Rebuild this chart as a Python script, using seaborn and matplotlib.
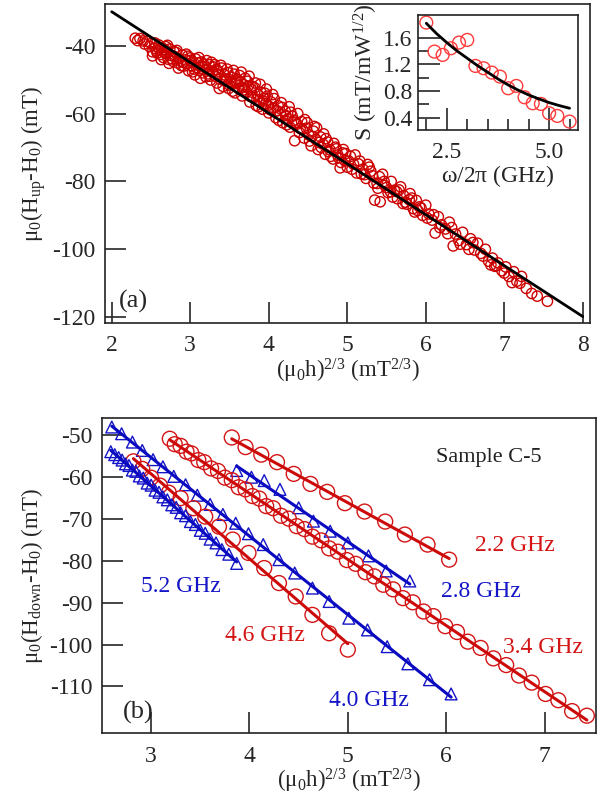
import matplotlib
matplotlib.use("Agg")
import matplotlib.pyplot as plt
import seaborn as sns
import numpy as np
from matplotlib.ticker import MultipleLocator, FixedLocator

sns.set_style("ticks")
plt.rcParams['font.family'] = ['Liberation Serif', 'DejaVu Serif']
plt.rcParams['mathtext.fontset'] = 'custom'
plt.rcParams['mathtext.rm'] = 'Liberation Serif'
plt.rcParams['mathtext.it'] = 'Liberation Serif:italic'
plt.rcParams['axes.unicode_minus'] = False

# ---------------- Panel (a) data ----------------
up_x = [2.30, 2.33, 2.36, 2.40, 2.42, 2.45, 2.48, 2.50, 2.52, 2.55, 2.57, 2.60, 2.62, 2.64, 2.66, 2.68,
        2.70, 2.72, 2.74, 2.76, 2.78, 2.80, 2.82, 2.84, 2.86, 2.88, 2.90, 2.92, 2.94, 2.96, 2.98, 3.00,
        3.02, 3.04, 3.06, 3.08, 3.10, 3.12, 3.14, 3.16, 3.18, 3.20, 3.22, 3.24, 3.26, 3.28, 3.30, 3.32,
        3.34, 3.36, 3.38, 3.40, 3.42, 3.44, 3.46, 3.48, 3.50, 3.52, 3.54, 3.56, 3.58, 3.60, 3.62, 3.64,
        3.66, 3.68, 3.70, 3.72, 3.74, 3.76, 3.78, 3.80, 3.82, 3.84, 3.86, 3.88, 3.90, 3.92, 3.94, 3.96,
        3.98, 4.00, 4.03, 4.06, 4.09, 4.12, 4.15, 4.18, 4.21, 4.24, 4.27, 4.30, 4.33, 4.36, 4.39, 4.42,
        4.45, 4.48, 4.51, 4.54, 4.57, 4.60, 4.63, 4.66, 4.69, 4.72, 4.75, 4.78, 4.82, 4.85, 4.88, 4.91,
        4.94, 4.97, 5.00, 5.04, 5.08, 5.12, 5.16, 5.20, 5.24, 5.28, 5.32, 5.35, 5.38, 5.42, 5.45, 5.48,
        5.52, 5.56, 5.60, 5.64, 5.68, 5.72, 5.76, 5.80, 5.84, 5.88, 5.92, 5.96, 6.00, 6.04, 6.08, 6.12,
        6.16, 6.20, 6.25, 6.30, 6.35, 6.38, 6.42, 6.47, 6.52, 6.57, 6.62, 6.66, 6.70, 6.76, 6.80, 6.85,
        6.88, 6.92, 6.97, 7.02, 7.06, 7.12, 7.16, 7.22, 7.28, 7.42, 7.55,
        2.52, 2.58, 2.63, 2.69, 2.73, 2.79, 2.85, 2.91, 2.97, 3.03, 3.07, 3.13, 3.17, 3.23, 3.27, 3.33,
        3.37, 3.43, 3.47, 3.53, 3.57, 3.63, 3.67, 3.73, 3.77, 3.83, 3.87, 3.93, 3.97, 4.02, 4.07, 4.13,
        4.17, 4.23, 4.28, 4.34, 4.40, 4.46, 4.52, 4.58, 4.64, 4.70, 4.76, 4.83, 4.89, 4.95, 5.02, 5.10,
        5.18, 5.26, 5.34, 5.41, 5.50, 5.58, 5.66, 5.74, 5.82, 5.90]
up_y = [-37.8, -38.5, -37.9, -38.6, -39.5, -38.7, -40.2, -39.4, -43.0, -40.8, -41.5, -39.8, -42.6, -40.6, -43.5, -41.2,
        -42.4, -44.0, -41.0, -42.9, -44.6, -43.2, -42.0, -45.1, -43.8, -44.5, -42.8, -46.0, -44.2, -45.3, -47.4, -43.6,
        -45.9, -44.9, -48.6, -46.4, -45.1, -47.3, -44.8, -48.0, -46.2, -49.2, -47.0, -45.6, -50.1, -47.8, -46.3, -49.0,
        -51.0, -47.5, -49.8, -46.6, -52.0, -48.6, -50.4, -47.9, -51.6, -49.3, -53.4, -48.4, -51.1, -49.9, -52.7, -50.6,
        -54.8, -51.5, -49.6, -53.6, -51.9, -56.6, -53.0, -55.2, -52.4, -57.6, -54.3, -56.0, -53.7, -58.7, -55.5, -57.2,
        -54.9, -59.8, -56.6, -58.3, -61.2, -57.7, -60.2, -62.7, -59.3, -61.6, -64.0, -60.8, -68.0, -63.1, -65.6, -62.4,
        -67.2, -64.3, -66.3, -69.5, -65.2, -67.6, -70.6, -66.9, -69.0, -72.0, -68.4, -70.7, -73.4, -69.9, -72.2, -76.0,
        -71.6, -73.9, -75.8, -72.6, -74.9, -77.5, -74.0, -76.4, -79.1, -75.8, -78.3, -85.5, -80.6, -86.0, -77.9, -81.2,
        -83.3, -80.0, -82.6, -85.1, -81.6, -84.2, -86.7, -83.6, -88.0, -85.6, -87.5, -90.0, -87.0, -89.6, -91.4, -95.2,
        -90.4, -92.8, -94.0, -92.0, -99.0, -95.5, -97.4, -95.0, -98.6, -96.9, -100.2, -98.2, -101.2, -100.0, -103.5, -102.6,
        -105.0, -104.0, -106.3, -105.2, -108.0, -106.6, -109.4, -108.0, -111.5, -113.8, -115.3,
        -41.8, -42.2, -44.1, -40.3, -45.2, -41.7, -46.6, -44.9, -43.1, -47.7, -43.9, -49.6, -45.4, -48.3, -44.9, -47.0,
        -52.6, -50.3, -46.9, -50.8, -53.9, -48.8, -52.3, -50.5, -55.0, -51.0, -58.0, -56.3, -52.8, -58.9, -55.6, -62.0,
        -58.2, -63.3, -59.6, -62.6, -64.4, -61.8, -68.1, -63.8, -68.5, -66.0, -71.2, -68.8, -73.0, -70.6, -74.0, -72.2,
        -77.8, -75.0, -80.5, -78.6, -81.8, -84.6, -82.5, -86.1, -84.9, -88.6]
up_x3 = [2.55, 2.61, 2.67, 2.71, 2.77, 2.83, 2.89, 2.95, 3.01, 3.05, 3.11, 3.15, 3.21, 3.25, 3.31, 3.35,
         3.39, 3.45, 3.49, 3.55, 3.59, 3.65, 3.69, 3.75, 3.79, 3.85, 3.89, 3.95, 3.99, 4.05, 4.11, 4.16,
         4.22, 4.26, 4.32, 4.37, 4.43, 4.49, 4.55, 4.61, 4.67, 4.73, 4.79, 4.86, 4.92, 4.98, 5.06, 5.14,
         5.22, 5.30, 5.39, 5.47, 5.55, 5.63, 5.71, 5.79, 5.86, 5.94, 6.02, 6.10, 6.18, 6.28, 6.33, 6.44,
         6.55, 6.60, 6.73, 6.83, 6.90, 7.00, 7.10, 7.20, 7.35]
up_y3 = [-39.2, -41.0, -42.0, -39.9, -43.9, -41.4, -45.9, -42.5, -44.3, -46.9, -43.5, -46.0, -44.4, -49.0, -45.6, -48.4,
         -45.8, -49.9, -52.6, -47.3, -50.4, -47.8, -53.0, -49.0, -52.0, -55.8, -51.4, -54.0, -57.6, -54.4, -59.2, -56.8,
         -60.6, -58.0, -62.0, -60.0, -64.7, -62.7, -66.8, -64.2, -70.0, -67.4, -72.6, -70.4, -74.4, -71.8, -76.4, -74.8,
         -78.0, -77.0, -82.0, -80.0, -83.0, -83.0, -86.5, -85.4, -89.0, -87.8, -90.8, -89.8, -93.6, -95.4, -93.6, -98.5,
         -100.0, -98.0, -102.0, -104.6, -104.8, -107.0, -109.8, -110.0, -113.0]
fit_a_x = [2.0, 5.0, 8.0]
fit_a_y = [-30.0, -74.8, -119.8]

# inset data
ins_f = [2.0, 2.2, 2.4, 2.6, 2.8, 3.0, 3.2, 3.4, 3.6, 3.8, 4.0, 4.2, 4.4, 4.6, 4.8, 5.0, 5.2, 5.5]
ins_s = [1.825, 1.39, 1.34, 1.44, 1.525, 1.565, 1.175, 1.14, 1.075, 1.015, 0.84, 0.875, 0.705, 0.615, 0.605,
         0.465, 0.425, 0.34]
ins_fit_f = [2.0, 2.25, 2.5, 2.75, 3.0, 3.25, 3.5, 3.75, 4.0, 4.25, 4.5, 4.75, 5.0, 5.25, 5.5]
ins_fit_s = [1.815, 1.66, 1.525, 1.40, 1.29, 1.18, 1.08, 0.98, 0.89, 0.81, 0.74, 0.68, 0.625, 0.58, 0.54]

# ---------------- Panel (b) data ----------------
x22 = [3.82, 3.96, 4.12, 4.28, 4.45, 4.62, 4.79, 4.97, 5.17, 5.38, 5.58, 5.81, 6.03]
y22 = [-50.5, -52.8, -54.6, -56.4, -59.2, -61.6, -63.5, -66.2, -68.2, -70.6, -73.7, -76.1, -79.7]

x28 = [3.87, 4.02, 4.15, 4.31, 4.50, 4.65, 4.82, 5.00, 5.21, 5.39, 5.63]
y28 = [-58.4, -60.0, -60.8, -62.9, -67.3, -70.5, -72.9, -75.7, -78.8, -82.4, -84.8]

x34 = [3.19, 3.24, 3.30, 3.36, 3.41, 3.48, 3.54, 3.61, 3.68, 3.75, 3.82, 3.89, 3.96, 4.03, 4.10, 4.17,
       4.24, 4.32, 4.40, 4.48, 4.56, 4.64, 4.73, 4.81, 4.90, 4.99, 5.08, 5.18, 5.27, 5.36, 5.46, 5.56,
       5.66, 5.77, 5.87, 5.99, 6.11, 6.22, 6.35, 6.48, 6.61, 6.74, 6.87, 7.01, 7.14, 7.28, 7.43]
y34 = [-50.8, -52.1, -52.5, -53.9, -54.3, -55.9, -56.4, -57.9, -58.5, -60.1, -60.7, -62.4, -62.9, -64.5, -65.1, -66.9,
       -67.4, -69.2, -69.9, -71.7, -72.4, -74.2, -75.1, -77.0, -77.8, -79.8, -80.7, -82.7, -83.7, -85.7, -86.8, -88.9,
       -89.9, -92.1, -93.2, -95.6, -97.0, -99.3, -100.8, -103.3, -104.9, -107.4, -109.1, -111.8, -113.3, -115.9, -117.0]

x40 = [2.60, 2.70, 2.81, 2.91, 3.02, 3.12, 3.23, 3.35, 3.47, 3.60, 3.73, 3.86, 3.99, 4.14, 4.30, 4.46,
       4.64, 4.81, 5.01, 5.20, 5.40, 5.61, 5.83, 6.05]
y40 = [-48.0, -49.6, -51.6, -53.6, -55.8, -57.5, -59.8, -61.8, -64.3, -66.5, -68.9, -71.0, -73.5, -76.1, -79.7, -82.9,
       -86.5, -89.7, -93.7, -96.5, -100.5, -104.6, -108.4, -111.8]

x46 = [2.82, 2.91, 3.00, 3.09, 3.18, 3.30, 3.43, 3.55, 3.69, 3.83, 3.99, 4.15, 4.30, 4.47, 4.64, 4.81, 5.00]
y46 = [-56.2, -58.0, -60.1, -62.0, -63.7, -65.0, -67.4, -69.4, -71.8, -74.9, -78.1, -81.7, -85.3, -88.5, -92.9,
       -97.3, -101.2]

x52 = [2.59, 2.63, 2.67, 2.705, 2.74, 2.775, 2.81, 2.845, 2.88, 2.92, 2.96, 3.00, 3.04, 3.08, 3.12, 3.165,
       3.21, 3.255, 3.30, 3.35, 3.40, 3.45, 3.50, 3.55, 3.60, 3.66, 3.72, 3.79, 3.87]
y52 = [-53.9, -54.6, -55.3, -55.9, -56.8, -57.2, -58.3, -58.6, -59.7, -60.2, -61.4, -61.9, -63.1, -63.6, -64.7, -65.4,
       -66.6, -67.2, -68.5, -69.2, -70.6, -71.3, -72.7, -73.4, -74.8, -75.7, -77.3, -78.4, -80.6]

red = '#d41414'
red_line = '#cc0a0a'
blue = '#1414c8'
blue_line = '#0a0ac0'

fig = plt.figure(figsize=(6.01, 8.02), dpi=100)
axA = fig.add_axes([0.1754, 0.5973, 0.806, 0.3978])
axB = fig.add_axes([0.1696, 0.0857, 0.8216, 0.3928])
axI = fig.add_axes([0.695, 0.838, 0.267, 0.1434])

# ---- panel (a)
sns.scatterplot(x=up_x + up_x3, y=up_y + up_y3, ax=axA, marker='o', s=55, facecolors='none',
                edgecolor='#cc0000', color='#cc0000', linewidth=1.0, zorder=2)
sns.lineplot(x=fit_a_x, y=fit_a_y, ax=axA, color='black', lw=2.0, zorder=3, estimator=None)
axA.set_xlim(1.92, 8.09)
axA.set_ylim(-121.7, -27.7)
axA.xaxis.set_major_locator(MultipleLocator(1))
axA.yaxis.set_major_locator(FixedLocator([-40, -60, -80, -100, -120]))
axA.set_xlabel(r'($\mathrm{\mu_0}$h)$^{\mathrm{2/3}}$ (mT$^{\mathrm{2/3}}$)', fontsize=16.5, labelpad=0)
axA.set_ylabel(r'$\mathrm{\mu_0}$(H$_{\mathrm{up}}$-H$_{\mathrm{0}}$) (mT)', fontsize=16.5, labelpad=3)
axA.text(2.28, -115.4, '(a)', fontsize=19, ha='center', va='center')

# ---- inset
sns.scatterplot(x=ins_f, y=ins_s, ax=axI, marker='o', s=85, facecolors='none', edgecolor='#ff3a3a',
                color='#ff3a3a', linewidth=1.0, zorder=2)
sns.lineplot(x=ins_fit_f, y=ins_fit_s, ax=axI, color='black', lw=2.0, zorder=3, estimator=None)
axI.set_xlim(1.79, 5.71)
axI.set_ylim(0.215, 1.94)
axI.xaxis.set_major_locator(FixedLocator([2.5, 5.0]))
axI.xaxis.set_minor_locator(FixedLocator([2.0, 3.0, 3.5, 4.0, 4.5, 5.5]))
axI.yaxis.set_major_locator(FixedLocator([0.4, 0.8, 1.2, 1.6]))
axI.yaxis.set_minor_locator(FixedLocator([0.6, 1.0, 1.4]))
axI.set_xticklabels(['2.5', '5.0'])
axI.set_yticklabels(['0.4', '0.8', '1.2', '1.6'])
axI.set_xlabel(r'$\mathrm{\omega}$/2$\mathrm{\pi}$ (GHz)', fontsize=17, labelpad=0)
axI.set_ylabel(r'S (mT/mW$^{\mathrm{1/2}}$)', fontsize=17, labelpad=2)

# ---- panel (b)
for xs, ys, mk, col, lcol, s in [(x22, y22, 'o', red, red_line, 115),
                                  (x28, y28, '^', blue, blue_line, 72),
                                  (x34, y34, 'o', red, red_line, 115),
                                  (x40, y40, '^', blue, blue_line, 72),
                                  (x46, y46, 'o', red, red_line, 115),
                                  (x52, y52, '^', blue, blue_line, 72)]:
    sns.scatterplot(x=xs, y=ys, ax=axB, marker=mk, s=s, facecolors='none', edgecolor=col,
                    color=col, linewidth=1.0, zorder=2)
    sns.regplot(x=np.array(xs), y=np.array(ys), ax=axB, scatter=False, ci=None, truncate=True,
                line_kws=dict(color=lcol, lw=2.2, zorder=3))

axB.set_xlim(2.5, 7.52)
axB.set_ylim(-121.2, -45.9)
axB.xaxis.set_major_locator(MultipleLocator(1))
axB.yaxis.set_major_locator(FixedLocator([-50, -60, -70, -80, -90, -100, -110]))
axB.set_xlabel(r'($\mathrm{\mu_0}$h)$^{\mathrm{2/3}}$ (mT$^{\mathrm{2/3}}$)', fontsize=16.5, labelpad=0)
axB.set_ylabel(r'$\mathrm{\mu_0}$(H$_{\mathrm{down}}$-H$_{\mathrm{0}}$) (mT)', fontsize=16.5, labelpad=3)

axB.text(6.43, -55.4, 'Sample C-5', fontsize=16, ha='center', va='center', color='#222222')
axB.text(6.70, -76.4, '2.2 GHz', fontsize=17, ha='center', va='center', color=red)
axB.text(6.35, -87.3, '2.8 GHz', fontsize=17, ha='center', va='center', color=blue)
axB.text(6.98, -100.8, '3.4 GHz', fontsize=17, ha='center', va='center', color=red)
axB.text(4.16, -97.9, '4.6 GHz', fontsize=17, ha='center', va='center', color=red)
axB.text(3.30, -86.1, '5.2 GHz', fontsize=17, ha='center', va='center', color=blue)
axB.text(5.21, -113.3, '4.0 GHz', fontsize=17, ha='center', va='center', color=blue)
axB.text(2.87, -116.2, '(b)', fontsize=19, ha='center', va='center')

for ax in (axA, axB):
    ax.tick_params(axis='both', which='major', direction='in', length=15, width=1.2,
                   labelsize=17, top=False, right=False)
    ax.tick_params(axis='x', pad=9)
    ax.tick_params(axis='y', pad=7)
    for sp in ax.spines.values():
        sp.set_linewidth(1.2)
        sp.set_color('#222222')

axI.tick_params(axis='both', which='major', direction='in', length=16, width=1.2,
                labelsize=17, top=False, right=False, pad=4)
axI.tick_params(axis='both', which='minor', direction='in', length=8, width=1.2,
                top=False, right=False)
axI.tick_params(axis='x', which='major', pad=9)
for sp in axI.spines.values():
    sp.set_linewidth(1.2)
    sp.set_color('#222222')

fig.savefig('out.png', dpi=100)
